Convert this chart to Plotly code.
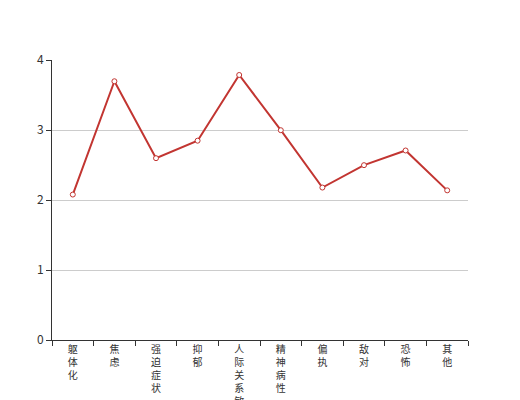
import plotly.graph_objects as go

# SCL-90 factor scores
factors = ['躯体化', '焦虑', '强迫症状', '抑郁', '人际关系敏感',
           '精神病性', '偏执', '敌对', '恐怖', '其他']
scores = [2.08, 3.70, 2.60, 2.85, 3.79, 3.00, 2.18, 2.50, 2.71, 2.14]
y_ticks = [0, 1, 2, 3, 4]

# vertical labels: one character per line
vertical_labels = ['<br>'.join(list(f)) for f in factors]

fig = go.Figure()
fig.add_trace(go.Scatter(
    x=factors,
    y=scores,
    mode='lines+markers',
    line=dict(color='#c23531', width=2),
    marker=dict(symbol='circle', size=5, color='white',
                line=dict(color='#c23531', width=1)),
    hoverinfo='x+y',
))

# page body has an 8px margin, so size the figure to fit the window
fig.update_layout(
    width=512,
    height=392,
    margin=dict(l=44, r=52, t=52, b=60),
    paper_bgcolor='white',
    plot_bgcolor='white',
    showlegend=False,
    font=dict(family='Noto Sans CJK SC, sans-serif', color='#333'),
)

fig.update_xaxes(
    type='category',
    tickmode='array',
    tickvals=factors,
    ticktext=vertical_labels,
    tickangle=0,
    tickfont=dict(size=10, color='#333'),
    showgrid=False,
    showline=True,
    linecolor='#333',
    linewidth=1,
    ticks='outside',
    tickson='boundaries',
    ticklen=5,
    tickcolor='#333',
    automargin=False,
    range=[-0.5, len(factors) - 0.5],
)

fig.update_yaxes(
    range=[0, 4.004],
    tickvals=y_ticks,
    tickfont=dict(size=12, color='#333'),
    showgrid=True,
    gridcolor='#ccc',
    gridwidth=1,
    zeroline=False,
    showline=True,
    linecolor='#333',
    linewidth=1,
    ticks='outside',
    ticklen=5,
    tickcolor='#333',
    automargin=False,
)

fig.write_html('out.html')
